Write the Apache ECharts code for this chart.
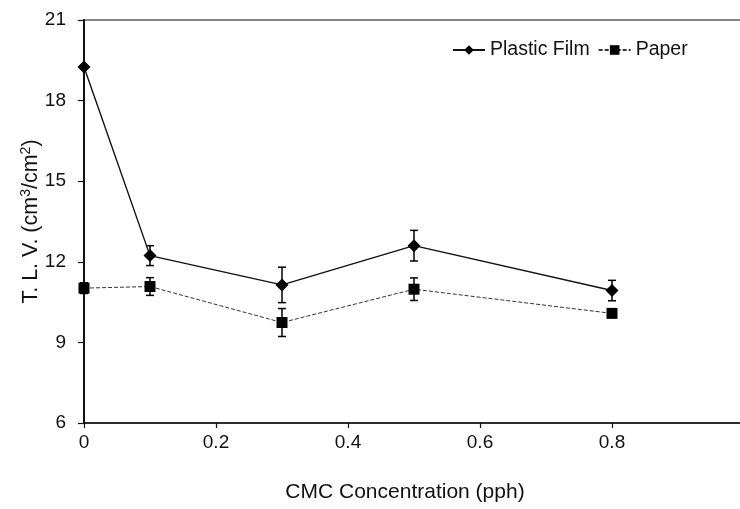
<!DOCTYPE html>
<html>
<head>
<meta charset="utf-8">
<script src="https://cdn.jsdelivr.net/npm/echarts@6/dist/echarts.min.js"></script>
<style>
  html, body { margin: 0; padding: 0; background: #fff; }
  #chart { width: 740px; height: 509px; }
</style>
</head>
<body>
<div id="chart"></div>
<script>
// CMC concentration (pph) and total leaked volume per film type
const concentrations = [0, 0.1, 0.3, 0.5, 0.8];
const plasticFilm = [19.25, 12.23, 11.14, 12.6, 10.93];
const plasticFilmErr = [0, 0.37, 0.66, 0.57, 0.38];
const paper = [11.02, 11.08, 9.74, 10.98, 10.08];
const paperErr = [0.2, 0.33, 0.52, 0.42, 0.1];
const yTicks = [6, 9, 12, 15, 18, 21];
const xTicks = [0, 0.2, 0.4, 0.6, 0.8, 1];

const FONT = '"Liberation Sans", Arial, sans-serif';

function pairs(xs, ys) { return xs.map((x, i) => [x, ys[i]]); }
function errData(xs, ys, es) { return xs.map((x, i) => [x, ys[i] - es[i], ys[i] + es[i]]); }

function errorBarSeries(data, name) {
  return {
    type: 'custom',
    name: name + ' error',
    data: data,
    z: 3,
    silent: true,
    renderItem: function (params, api) {
      const x = api.value(0);
      const lo = api.coord([x, api.value(1)]);
      const hi = api.coord([x, api.value(2)]);
      const cap = 4;
      const style = { stroke: '#000', lineWidth: 1.5 };
      return {
        type: 'group',
        children: [
          { type: 'line', shape: { x1: lo[0], y1: lo[1], x2: hi[0], y2: hi[1] }, style: style },
          { type: 'line', shape: { x1: lo[0] - cap, y1: lo[1], x2: lo[0] + cap, y2: lo[1] }, style: style },
          { type: 'line', shape: { x1: hi[0] - cap, y1: hi[1], x2: hi[0] + cap, y2: hi[1] }, style: style }
        ]
      };
    }
  };
}

const chart = echarts.init(document.getElementById('chart'), null, { renderer: 'canvas' });
chart.setOption({
  animation: false,
  backgroundColor: '#fff',
  textStyle: { fontFamily: FONT, color: '#111' },
  grid: {
    left: 84, top: 20, width: 660, height: 403,
    containLabel: false, outerBoundsMode: 'none',
    show: true, borderColor: '#111', borderWidth: 1.2, backgroundColor: 'transparent'
  },
  legend: {
    left: 447, top: 35,
    itemWidth: 32, itemHeight: 12, itemGap: 8,
    textStyle: { fontFamily: FONT, fontSize: 19.5, color: '#111' },
    data: ['Plastic Film', 'Paper']
  },
  xAxis: {
    type: 'value', min: xTicks[0], max: xTicks[xTicks.length - 1], interval: 0.2,
    name: 'CMC Concentration (pph)', nameLocation: 'middle', nameGap: 59, nameMoveOverlap: false,
    nameTextStyle: { fontFamily: FONT, fontSize: 21, color: '#111', padding: [0, 18, 0, 0] },
    axisLine: { show: true, lineStyle: { color: '#111', width: 1.5 } },
    axisTick: { show: true, inside: false, length: 5, lineStyle: { color: '#111', width: 1.2 } },
    axisLabel: { fontFamily: FONT, fontSize: 19, color: '#111', margin: 10,
      formatter: v => String(Math.round(v * 10) / 10) },
    splitLine: { show: false }
  },
  yAxis: {
    type: 'value', min: yTicks[0], max: yTicks[yTicks.length - 1], interval: 3,
    name: 'T. L. V. (cm{sup|3}/cm{sup|2})', nameLocation: 'middle', nameGap: 41, nameRotate: 90,
    nameMoveOverlap: false,
    nameTextStyle: {
      fontFamily: FONT, fontSize: 21.5, color: '#111', lineHeight: 24,
      rich: { sup: { fontFamily: FONT, fontSize: 14, color: '#111', verticalAlign: 'top', lineHeight: 24 } }
    },
    axisLine: { show: true, lineStyle: { color: '#111', width: 2 } },
    axisTick: { show: true, inside: false, length: 6, lineStyle: { color: '#111', width: 1.2 } },
    axisLabel: { fontFamily: FONT, fontSize: 19, color: '#111', margin: 18 },
    splitLine: { show: false }
  },
  series: [
    {
      name: 'Plastic Film', type: 'line', data: pairs(concentrations, plasticFilm),
      symbol: 'diamond', symbolSize: 13, z: 4,
      itemStyle: { color: '#000' },
      lineStyle: { color: '#111', width: 1.4 }
    },
    {
      name: 'Paper', type: 'line', data: pairs(concentrations, paper),
      symbol: 'rect', symbolSize: 11, z: 4,
      itemStyle: { color: '#000' },
      lineStyle: { color: '#333', width: 1, type: [4, 2] }
    },
    errorBarSeries(errData(concentrations, plasticFilm, plasticFilmErr), 'Plastic Film'),
    errorBarSeries(errData(concentrations, paper, paperErr), 'Paper')
  ]
});
</script>
</body>
</html>
